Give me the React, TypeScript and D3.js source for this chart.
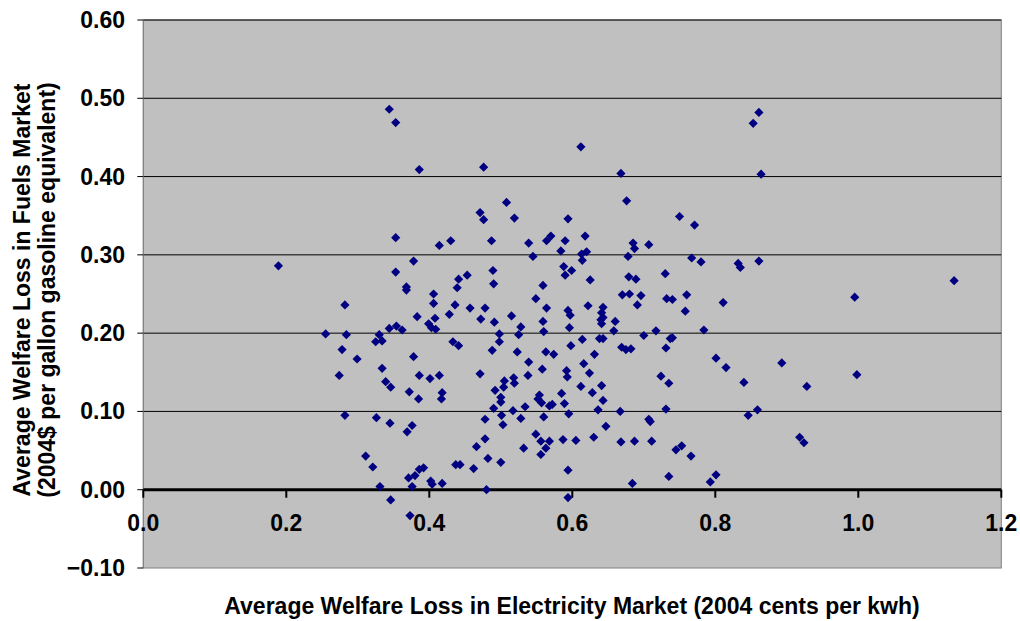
import React from "react";
import * as d3 from "d3";

// Electricity-market welfare loss (x) and fuels-market welfare loss (y)
const electricity: number[] = [
  0.344, 0.353, 0.386, 0.353, 0.189, 0.378, 0.353, 0.368,
  0.368, 0.282, 0.383, 0.255, 0.284, 0.330, 0.344, 0.354, 0.362, 0.325, 0.334, 0.278,
  0.299, 0.378, 0.334, 0.274, 0.339, 0.346, 0.372, 0.385, 0.386, 0.282, 0.326, 0.345,
  0.376, 0.369, 0.311, 0.321, 0.331, 0.346, 0.371, 0.380, 0.376, 0.386, 0.373,
  0.476, 0.612, 0.508, 0.471, 0.476, 0.519, 0.594, 0.414, 0.430, 0.487, 0.539, 0.564,
  0.570, 0.590, 0.618, 0.584, 0.545, 0.613, 0.620, 0.614, 0.588, 0.599, 0.590, 0.625,
  0.489, 0.490, 0.453, 0.441, 0.439, 0.406, 0.559, 0.549,
  0.406, 0.436, 0.457, 0.478, 0.564, 0.594, 0.597, 0.622, 0.643, 0.641, 0.640, 0.641,
  0.643, 0.643, 0.638, 0.408, 0.428, 0.399, 0.403, 0.409, 0.472, 0.491, 0.515, 0.528,
  0.525, 0.498, 0.498, 0.559, 0.560, 0.596, 0.614, 0.598, 0.433, 0.441, 0.488, 0.523,
  0.563, 0.574, 0.631, 0.539, 0.616, 0.401, 0.414, 0.471, 0.558, 0.592, 0.593, 0.624,
  0.505, 0.518, 0.519, 0.504, 0.538, 0.492, 0.612, 0.641, 0.418, 0.417, 0.500, 0.500,
  0.585, 0.628, 0.554, 0.552, 0.557, 0.589, 0.568, 0.572, 0.643, 0.490, 0.517, 0.534,
  0.636, 0.595, 0.478, 0.501, 0.503, 0.528, 0.560, 0.647, 0.549, 0.556, 0.568, 0.563,
  0.556, 0.587, 0.605, 0.630, 0.478, 0.466, 0.532, 0.482, 0.500, 0.462, 0.437, 0.443,
  0.392, 0.402, 0.404, 0.418, 0.480, 0.594, 0.594,
  0.861, 0.853, 0.668, 0.864, 0.676, 0.750, 0.771, 0.685, 0.687, 0.707, 0.678, 0.767,
  0.780, 0.832, 0.835, 0.861, 0.730, 0.679, 0.689, 0.670, 0.680, 0.696, 0.760, 0.732,
  0.740, 0.811,
  0.691, 0.758, 0.660, 0.658, 0.717, 0.784, 0.700, 0.737, 0.740, 0.669, 0.675, 0.682,
  0.731, 0.801, 0.815, 0.893, 0.724, 0.735, 0.840, 0.667, 0.731, 0.846, 0.859, 0.707,
  0.709, 0.668, 0.687, 0.711, 0.745, 0.753, 0.766, 0.735, 0.684, 0.801, 0.793,
  1.134, 0.995, 0.998, 0.928, 0.918, 0.924,
];

const fuels: number[] = [
  0.486, 0.469, 0.409, 0.322, 0.286, 0.292, 0.278, 0.259,
  0.255, 0.236, 0.221, 0.199, 0.198, 0.198, 0.206, 0.209, 0.204, 0.189, 0.190, 0.179,
  0.167, 0.170, 0.155, 0.146, 0.138, 0.131, 0.125, 0.116, 0.146, 0.095, 0.092, 0.085,
  0.082, 0.074, 0.043, 0.029, 0.004, -0.013, 0.015, 0.018, 0.004, 0.026, -0.033,
  0.412, 0.438, 0.367, 0.354, 0.345, 0.347, 0.346, 0.312, 0.318, 0.318, 0.315, 0.318,
  0.324, 0.318, 0.324, 0.305, 0.298, 0.301, 0.304, 0.293, 0.285, 0.280, 0.274, 0.268,
  0.280, 0.263, 0.274, 0.269, 0.258, 0.250, 0.261, 0.244,
  0.238, 0.236, 0.232, 0.232, 0.232, 0.229, 0.223, 0.235, 0.233, 0.226, 0.217, 0.212,
  0.220, 0.193, 0.193, 0.219, 0.224, 0.212, 0.207, 0.205, 0.218, 0.214, 0.222, 0.208,
  0.198, 0.199, 0.189, 0.215, 0.202, 0.207, 0.192, 0.184, 0.189, 0.184, 0.178, 0.176,
  0.176, 0.173, 0.173, 0.163, 0.161, 0.142, 0.146, 0.148, 0.154, 0.152, 0.144, 0.149,
  0.139, 0.143, 0.136, 0.131, 0.146, 0.127, 0.132, 0.133, 0.124, 0.116, 0.118, 0.112,
  0.123, 0.124, 0.121, 0.116, 0.111, 0.110, 0.107, 0.109, 0.114, 0.104, 0.101, 0.106,
  0.102, 0.097, 0.090, 0.095, 0.083, 0.091, 0.093, 0.081, 0.071, 0.062, 0.062, 0.053,
  0.045, 0.064, 0.063, 0.067, 0.065, 0.055, 0.053, 0.040, 0.035, 0.027, 0.032, 0.032,
  0.028, 0.011, 0.007, 0.008, 0.000, 0.025, -0.010,
  0.482, 0.468, 0.404, 0.403, 0.369, 0.349, 0.338, 0.315, 0.308, 0.313, 0.298, 0.296,
  0.291, 0.289, 0.284, 0.292, 0.276, 0.272, 0.269, 0.249, 0.250, 0.248, 0.249, 0.244,
  0.243, 0.239,
  0.236, 0.228, 0.215, 0.203, 0.203, 0.204, 0.197, 0.193, 0.194, 0.182, 0.179, 0.180,
  0.181, 0.168, 0.156, 0.162, 0.145, 0.136, 0.137, 0.100, 0.103, 0.095, 0.102, 0.090,
  0.087, 0.061, 0.062, 0.062, 0.051, 0.056, 0.043, 0.017, 0.008, 0.019, 0.010,
  0.267, 0.246, 0.147, 0.132, 0.067, 0.060,
];

const xTicks: number[] = [0, 0.2, 0.4, 0.6, 0.8, 1.0, 1.2];
const yTicks: number[] = [-0.1, 0, 0.1, 0.2, 0.3, 0.4, 0.5, 0.6];
const xTitle = "Average Welfare Loss in Electricity Market (2004 cents per kwh)";
const yTitle1 = "Average Welfare Loss in Fuels Market";
const yTitle2 = "(2004$ per gallon gasoline equivalent)";

const W = 1020;
const H = 621;
const L = 143.3;
const R = 1001.3;
const T = 20;
const B = 568;
const FONT = "'Liberation Sans', Arial, sans-serif";
const FS = 23;

export default function App() {
  const x = d3.scaleLinear().domain([0, 1.2]).range([L, R]);
  const y = d3.scaleLinear().domain([-0.1, 0.6]).range([B, T]);
  const y0 = y(0);
  const s = 4.6;
  const pts = electricity.map((e, i) => [x(e), y(fuels[i])]);

  return (
    <svg
      width={W}
      height={H}
      style={{ position: "absolute", left: 0, top: 0, background: "#fff" }}
      fontFamily={FONT}
    >
      <rect x={0} y={0} width={W} height={H} fill="#fff" />
      <rect x={L} y={T} width={R - L} height={B - T} fill="#C0C0C0" stroke="#808080" strokeWidth={1} />
      {yTicks
        .filter((v) => v > 0)
        .map((v) => (
          <line key={"g" + v} x1={L} x2={R} y1={y(v)} y2={y(v)} stroke="#000" strokeWidth={1} />
        ))}
      {/* y axis */}
      <line x1={L} x2={L} y1={T} y2={B} stroke="#808080" strokeWidth={1} />
      {yTicks.map((v) => (
        <g key={"yt" + v}>
          <line x1={L - 6} x2={L} y1={y(v)} y2={y(v)} stroke="#000" strokeWidth={1} />
          <text
            x={125}
            y={y(v)}
            dy="0.35em"
            textAnchor="end"
            fontSize={FS}
            fontWeight="bold"
            fill="#000"
          >
            {d3.format(".2f")(v)}
          </text>
        </g>
      ))}
      {/* x axis at zero */}
      <line x1={L} x2={R} y1={y0} y2={y0} stroke="#000" strokeWidth={3} />
      {xTicks.map((v) => (
        <g key={"xt" + v}>
          <line x1={x(v)} x2={x(v)} y1={y0} y2={y0 + 8} stroke="#000" strokeWidth={2} />
          <text
            x={x(v)}
            y={y0 + 33}
            dy="0.35em"
            textAnchor="middle"
            fontSize={FS}
            fontWeight="bold"
            fill="#000"
          >
            {d3.format(".1f")(v)}
          </text>
        </g>
      ))}
      {/* points */}
      {pts.map(([px, py], i) => (
        <path
          key={"p" + i}
          d={`M${px},${py - s}L${px + s},${py}L${px},${py + s}L${px - s},${py}Z`}
          fill="#000080"
        />
      ))}
      {/* titles */}
      <text
        x={572}
        y={606}
        dy="0.35em"
        textAnchor="middle"
        fontSize={FS}
        fontWeight="bold"
        fill="#000"
      >
        {xTitle}
      </text>
      <text
        transform={`translate(22,290) rotate(-90)`}
        dy="0.35em"
        textAnchor="middle"
        fontSize={FS}
        fontWeight="bold"
        fill="#000"
      >
        {yTitle1}
      </text>
      <text
        transform={`translate(47,290) rotate(-90)`}
        dy="0.35em"
        textAnchor="middle"
        fontSize={FS}
        fontWeight="bold"
        fill="#000"
      >
        {yTitle2}
      </text>
    </svg>
  );
}
